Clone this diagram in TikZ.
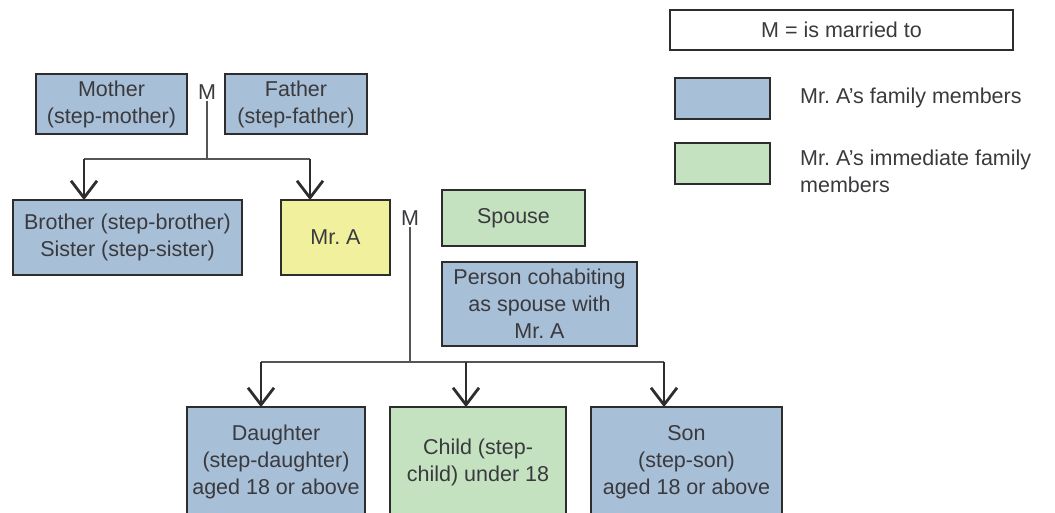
\documentclass[tikz,border=0pt]{standalone}
\usepackage{fontspec}
\setmainfont{Liberation Sans}
\usetikzlibrary{arrows.meta}
\definecolor{famblue}{RGB}{168,191,216}
\definecolor{famgreen}{RGB}{196,226,192}
\definecolor{mryellow}{RGB}{241,241,157}
\definecolor{txt}{RGB}{58,58,62}
\definecolor{edge}{RGB}{45,45,45}
\definecolor{conn}{RGB}{85,85,85}
\tikzset{
  box/.style={draw=edge, line width=1.8pt, align=center, inner sep=0pt, text=txt, font=\fontsize{21.5}{27}\selectfont},
  bluebox/.style={box, fill=famblue},
  greenbox/.style={box, fill=famgreen},
  yellowbox/.style={box, fill=mryellow},
  mlabel/.style={inner sep=1pt, text=txt, font=\fontsize{21.5}{27}\selectfont},
  legtext/.style={inner sep=0pt, anchor=west, align=left, text=txt, font=\fontsize{21.5}{27}\selectfont},
  conn/.style={draw=conn, line width=1.8pt},
  arr/.style={draw=edge, line width=2.8pt, -{Straight Barb[length=17pt,width=26pt,line width=2.8pt]}}
}
\begin{document}
\begin{tikzpicture}[x=1pt,y=-1pt]
\useasboundingbox (0,0) rectangle (1055,513);
% legend
\node[box, fill=white, minimum width=343pt, minimum height=40pt] (legm) at (841.5,30) {M = is married to};
\node[bluebox, minimum width=95pt, minimum height=41pt] (legb) at (722.5,98.5) {};
\node[legtext] (legbt) at (800,98) {Mr.\ A’s family members};
\node[greenbox, minimum width=95pt, minimum height=41pt] (legg) at (722.5,163.5) {};
\node[legtext] (leggt) at (800,171) {Mr.\ A’s immediate family\\members};
% parents
\node[bluebox, minimum width=151pt, minimum height=60pt] (mother) at (111.5,104) {Mother\\(step-mother)};
\node[bluebox, minimum width=142pt, minimum height=60pt] (father) at (296,104) {Father\\(step-father)};
\node[mlabel] (mp) at (207,92) {M};
% generation of Mr. A
\node[bluebox, minimum width=229pt, minimum height=75pt] (bro) at (127.5,237.5) {Brother (step-brother)\\Sister (step-sister)};
\node[yellowbox, minimum width=109pt, minimum height=75pt] (mra) at (335.5,237.5) {Mr.\ A};
\node[mlabel] (ma) at (410,218) {M};
\node[greenbox, minimum width=143pt, minimum height=56pt] (spouse) at (513.5,218) {Spouse};
\node[bluebox, minimum width=195pt, minimum height=84pt] (cohab) at (539.5,304) {Person cohabiting\\as spouse with\\Mr.\ A};
% children
\node[bluebox, minimum width=178pt, minimum height=110pt] (dau) at (276,462) {Daughter\\(step-daughter)\\aged 18 or above};
\node[greenbox, minimum width=176pt, minimum height=110pt] (child) at (478,462) {Child (step-\\child) under 18};
\node[bluebox, minimum width=191pt, minimum height=110pt] (son) at (686.5,462) {Son\\(step-son)\\aged 18 or above};
% connectors (parents)
\coordinate (j1) at (207,159);
\draw[conn] (mp.south) -- (j1);
\draw[conn] ([xshift=-43.5pt]bro.north |- j1) -- ([xshift=-25.5pt]mra.north |- j1);
\draw[arr] ([xshift=-43.5pt]bro.north |- j1) -- ([xshift=-43.5pt,yshift=-1pt]bro.north);
\draw[arr] ([xshift=-25.5pt]mra.north |- j1) -- ([xshift=-25.5pt,yshift=-1pt]mra.north);
% connectors (children)
\coordinate (j2) at (410,362);
\draw[conn] (ma.south) -- (j2);
\draw[conn] ([xshift=-15pt]dau.north |- j2) -- ([xshift=-22.5pt]son.north |- j2);
\draw[arr] ([xshift=-15pt]dau.north |- j2) -- ([xshift=-15pt,yshift=-1pt]dau.north);
\draw[arr] ([xshift=-12pt]child.north |- j2) -- ([xshift=-12pt,yshift=-1pt]child.north);
\draw[arr] ([xshift=-22.5pt]son.north |- j2) -- ([xshift=-22.5pt,yshift=-1pt]son.north);
\end{tikzpicture}
\end{document}
